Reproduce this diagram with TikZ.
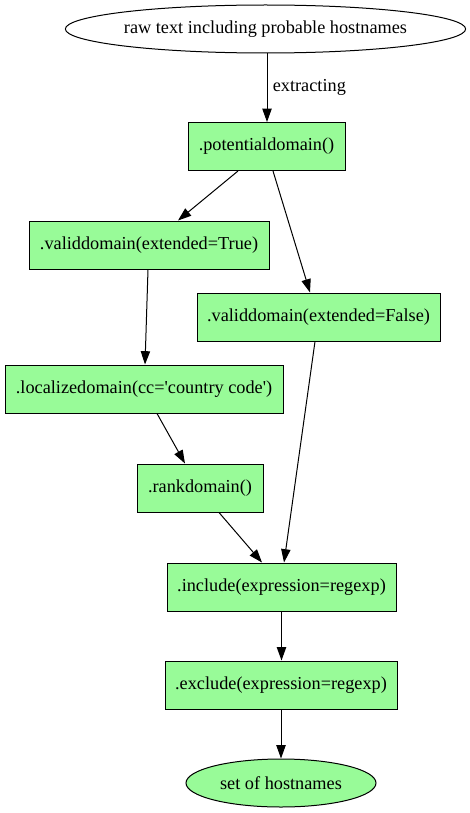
\documentclass[tikz,border=0pt]{standalone}
\usepackage{fontspec}
\setmainfont{Liberation Serif}
\usetikzlibrary{arrows.meta,shapes.geometric}
\definecolor{pgreen}{HTML}{98FB98}
\begin{document}
\begin{tikzpicture}[x=0.75pt,y=-0.75pt,
  every node/.style={font=\fontsize{13.7}{16}\selectfont, inner sep=0pt},
  box/.style={draw=black, line width=0.75pt, fill=pgreen, rectangle, minimum height=36pt},
  oval/.style={draw=black, line width=0.75pt, ellipse, minimum height=36pt},
  arr/.style={draw=black, line width=0.75pt, -{Triangle[length=10pt,width=7pt]}}]
\useasboundingbox (0,0) rectangle (469,813);
\node[oval, fill=white, minimum width=297.75pt] (top) at (265.5,29) {raw text including probable hostnames};
\node[box, minimum width=117.75pt] (pd) at (266.5,146.5) {.potentialdomain()};
\node[box, minimum width=180pt] (vT) at (149,245) {.validdomain(extended=True)};
\node[box, minimum width=182.25pt] (vF) at (318.5,317) {.validdomain(extended=False)};
\node[box, minimum width=208.5pt] (loc) at (144,389) {.localizedomain(cc=\textquotesingle country code\textquotesingle)};
\node[box, minimum width=94.5pt] (rank) at (200,488) {.rankdomain()};
\node[box, minimum width=171.75pt] (inc) at (281.5,587) {.include(expression=regexp)};
\node[box, minimum width=174pt] (exc) at (281,685) {.exclude(expression=regexp)};
\node[oval, fill=pgreen, minimum width=142.5pt] (set) at (281,783) {set of hostnames};

\draw[arr] ([shift={(1.5,0)}]top.south) -- node[right=4pt, pos=0.5] (lab) {extracting} ([shift={(0.5,0)}]pd.north);
\draw[arr] ([shift={(-28.5,0)}]pd.south) -- ([shift={(29,0)}]vT.north);
\draw[arr] ([shift={(6.5,0)}]pd.south) -- ([shift={(-8.5,0)}]vF.north);
\draw[arr] ([shift={(-1,0)}]vT.south) -- ([shift={(1,0)}]loc.north);
\draw[arr] ([shift={(-3.5,0)}]vF.south) -- ([shift={(2.5,0)}]inc.north);
\draw[arr] ([shift={(13,0)}]loc.south) -- ([shift={(-15,0)}]rank.north);
\draw[arr] ([shift={(19,0)}]rank.south) -- ([shift={(-19.5,0)}]inc.north);
\draw[arr] (inc.south) -- (inc.south |- exc.north);
\draw[arr] (exc.south) -- (set.north);
\end{tikzpicture}
\end{document}
